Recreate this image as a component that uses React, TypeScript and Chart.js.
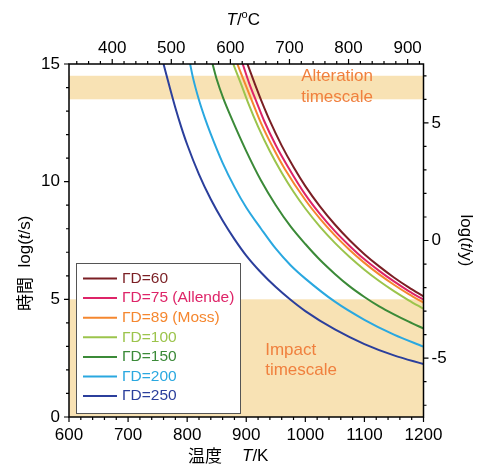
import { useEffect, useRef } from 'react';
import { Chart, registerables } from 'chart.js';

Chart.register(...registerables);

// ---- data ----
const seriesLabels = ['ΓD=60', 'ΓD=75 (Allende)', 'ΓD=89 (Moss)', 'ΓD=100', 'ΓD=150', 'ΓD=200', 'ΓD=250'];
const seriesColors = ['#7b1f24', '#de2468', '#f5872f', '#9cc44c', '#3b8a38', '#2aa8e0', '#2b3f9c'];

const gd60T = [902, 915, 926, 940, 960, 980, 1000, 1025, 1050, 1075, 1100, 1125, 1150, 1175, 1200];
const gd60V = [15, 14.12, 13.41, 12.58, 11.53, 10.62, 9.81, 8.94, 8.18, 7.51, 6.92, 6.4, 5.93, 5.51, 5.13];

const gd75T = [894, 905, 918, 930, 950, 970, 1000, 1025, 1050, 1075, 1100, 1125, 1150, 1175, 1200];
const gd75V = [15, 14.18, 13.35, 12.6, 11.55, 10.66, 9.45, 8.62, 7.9, 7.27, 6.7, 6.21, 5.76, 5.35, 4.99];

const gd89T = [885, 895, 911, 925, 945, 965, 1000, 1025, 1050, 1075, 1100, 1125, 1150, 1175, 1200];
const gd89V = [15, 14.36, 13.35, 12.49, 11.46, 10.55, 9.22, 8.42, 7.72, 7.1, 6.55, 6.06, 5.62, 5.22, 4.86];

const gd100T = [878, 890, 903, 920, 940, 960, 980, 1000, 1025, 1050, 1075, 1100, 1125, 1150, 1175, 1200];
const gd100V = [15, 14.23, 13.36, 12.34, 11.29, 10.38, 9.57, 8.86, 8.08, 7.4, 6.8, 6.26, 5.78, 5.35, 4.96, 4.6];

const gd150T = [843, 850, 861, 875, 900, 925, 950, 975, 1000, 1025, 1050, 1075, 1100, 1125, 1150, 1175, 1200];
const gd150V = [15, 14.35, 13.55, 12.7, 11.3, 10.05, 9.0, 8.1, 7.35, 6.67, 6.08, 5.55, 5.1, 4.7, 4.36, 4.05, 3.76];

const gd200T = [805, 810, 820, 830, 840, 860, 880, 900, 925, 950, 975, 1000, 1050, 1100, 1150, 1200];
const gd200V = [15, 14.4, 13.47, 12.7, 12.02, 10.8, 9.78, 8.9, 8.0, 7.15, 6.45, 5.88, 4.9, 4.13, 3.5, 2.99];

const gd250T = [760, 770, 780, 790, 800, 820, 840, 860, 880, 900, 925, 950, 975, 1000, 1050, 1100, 1150, 1200];
const gd250V = [15, 14.05, 13.14, 12.32, 11.58, 10.31, 9.25, 8.35, 7.56, 6.86, 6.14, 5.52, 4.98, 4.5, 3.72, 3.1, 2.62, 2.25];

const seriesT = [gd60T, gd75T, gd89T, gd100T, gd150T, gd200T, gd250T];
const seriesV = [gd60V, gd75V, gd89V, gd100V, gd150V, gd200V, gd250V];

const kelvinMajor = [600, 700, 800, 900, 1000, 1100, 1200];
const celsiusMajor = [400, 500, 600, 700, 800, 900];
const logSMajor = [0, 5, 10, 15];
const logYMajor = [-5, 0, 5];

const alterationBand = [13.5, 14.5];
const impactBand = [0, 5];
const alterationText = ['Alteration', 'timescale'];
const impactText = ['Impact', 'timescale'];

const KELVIN_ZERO = 273.15;
const LOG_SEC_PER_YEAR = 7.499;

function range(a: number, b: number, s: number) {
  const out: number[] = [];
  for (let v = a; v <= b + 1e-9; v += s) out.push(Math.round(v * 1000) / 1000);
  return out;
}
const kelvinMinor = range(600, 1200, 20);
const celsiusMinor = range(340, 920, 20);
const logSMinor = range(0, 15, 1);
const logYMinor = range(-7, 7, 1);

const FONT = '"Liberation Sans", Arial, "Noto Sans CJK JP", sans-serif';
const CJK = '"Noto Sans CJK JP", "Liberation Sans", sans-serif';

type Seg = { t: string; it?: boolean; sup?: boolean; cjk?: boolean };

function segFont(s: Seg, size: number) {
  const sz = s.sup ? Math.round(size * 0.62) : size;
  return `${s.it ? 'italic ' : ''}${sz}px ${s.cjk ? CJK : FONT}`;
}

function drawRich(ctx: CanvasRenderingContext2D, segs: Seg[], x: number, y: number, size: number, align: 'left' | 'center') {
  let total = 0;
  for (const s of segs) {
    ctx.font = segFont(s, size);
    total += ctx.measureText(s.t).width;
  }
  let cx = align === 'center' ? x - total / 2 : x;
  ctx.textAlign = 'left';
  ctx.textBaseline = 'middle';
  for (const s of segs) {
    ctx.font = segFont(s, size);
    ctx.fillText(s.t, cx, s.sup ? y - size * 0.3 : y);
    cx += ctx.measureText(s.t).width;
  }
}

const decorPlugin = {
  id: 'decor',
  beforeDatasetsDraw(chart: any) {
    const { ctx, chartArea: a, scales } = chart;
    const y = scales.y;
    ctx.save();
    ctx.fillStyle = '#f8e2b4';
    for (const band of [alterationBand, impactBand]) {
      const top = y.getPixelForValue(band[1]);
      const bot = y.getPixelForValue(band[0]);
      ctx.fillRect(a.left, top, a.right - a.left, bot - top);
    }
    ctx.restore();
  },
  afterDatasetsDraw(chart: any) {
    const { ctx, chartArea: a, scales } = chart;
    const { x, xTop, y, yRight } = scales;
    ctx.save();

    // band labels
    ctx.fillStyle = '#f0803e';
    ctx.font = `17px ${FONT}`;
    ctx.textAlign = 'left';
    ctx.textBaseline = 'middle';
    ctx.fillText(alterationText[0], x.getPixelForValue(993), y.getPixelForValue(14.47));
    ctx.fillText(alterationText[1], x.getPixelForValue(993), y.getPixelForValue(13.57));
    ctx.fillText(impactText[0], x.getPixelForValue(932), y.getPixelForValue(2.85));
    ctx.fillText(impactText[1], x.getPixelForValue(932), y.getPixelForValue(2.0));

    // frame
    ctx.strokeStyle = '#000';
    ctx.lineWidth = 1.5;
    ctx.strokeRect(a.left, a.top, a.right - a.left, a.bottom - a.top);

    // tick marks
    ctx.lineWidth = 1.2;
    ctx.beginPath();
    for (const v of kelvinMinor) {
      const p = x.getPixelForValue(v);
      const len = kelvinMajor.includes(v) ? 5 : 3;
      ctx.moveTo(p, a.bottom);
      ctx.lineTo(p, a.bottom + len);
    }
    for (const v of celsiusMinor) {
      const p = xTop.getPixelForValue(v);
      const len = celsiusMajor.includes(v) ? 5 : 3;
      ctx.moveTo(p, a.top);
      ctx.lineTo(p, a.top - len);
    }
    for (const v of logSMinor) {
      const p = y.getPixelForValue(v);
      const len = logSMajor.includes(v) ? 5 : 3;
      ctx.moveTo(a.left, p);
      ctx.lineTo(a.left - len, p);
    }
    for (const v of logYMinor) {
      const p = yRight.getPixelForValue(v);
      const len = logYMajor.includes(v) ? 5 : 3;
      ctx.moveTo(a.right, p);
      ctx.lineTo(a.right + len, p);
    }
    ctx.stroke();

    // legend
    const lx = a.left + 7;
    const ly = a.bottom - 154;
    const lw = 164;
    const lh = 150;
    ctx.fillStyle = '#fff';
    ctx.fillRect(lx, ly, lw, lh);
    ctx.strokeStyle = '#555';
    ctx.lineWidth = 1;
    ctx.strokeRect(lx + 0.5, ly + 0.5, lw, lh);
    chart.data.datasets.forEach((ds: any, i: number) => {
      const cy = ly + 15.5 + i * 19.6;
      ctx.strokeStyle = ds.borderColor;
      ctx.lineWidth = 2;
      ctx.beginPath();
      ctx.moveTo(lx + 7, cy);
      ctx.lineTo(lx + 41, cy);
      ctx.stroke();
      ctx.fillStyle = ds.borderColor;
      ctx.font = `15.5px ${FONT}`;
      ctx.textAlign = 'left';
      ctx.textBaseline = 'middle';
      ctx.fillText(ds.label, lx + 46, cy);
    });

    // axis titles
    ctx.fillStyle = '#000';
    drawRich(ctx, [{ t: 'T', it: true }, { t: '/' }, { t: 'o', sup: true }, { t: 'C' }], (a.left + a.right) / 2 - 3, 20, 17, 'center');

    drawRich(ctx, [{ t: '温度', cjk: true }], a.left + 119, 456, 17, 'left');
    drawRich(ctx, [{ t: 'T', it: true }, { t: '/K' }], a.left + 173, 456, 17, 'left');

    ctx.save();
    ctx.translate(25, 311);
    ctx.rotate(-Math.PI / 2);
    drawRich(ctx, [{ t: '時間', cjk: true }, { t: '  log(' }, { t: 't', it: true }, { t: '/s)' }], 0, 0, 17, 'left');
    ctx.restore();

    ctx.save();
    ctx.translate(466, (a.top + a.bottom) / 2);
    ctx.rotate(Math.PI / 2);
    drawRich(ctx, [{ t: 'log(' }, { t: 't', it: true }, { t: '/y)' }], 0, 0, 17, 'center');
    ctx.restore();

    ctx.restore();
  },
};

const tickFont = { family: FONT, size: 17 };

export default function App() {
  const ref = useRef<HTMLCanvasElement | null>(null);

  useEffect(() => {
    document.body.style.margin = '0';
    const canvas = ref.current;
    if (!canvas) return;
    const datasets = seriesLabels.map((label, i) => ({
      label,
      data: seriesT[i].map((t, j) => ({ x: t, y: seriesV[i][j] })),
      borderColor: seriesColors[i],
      backgroundColor: seriesColors[i],
      borderWidth: 2,
      pointRadius: 0,
      fill: false,
      cubicInterpolationMode: 'monotone' as const,
      xAxisID: 'x',
      yAxisID: 'y',
    }));

    const chart = new Chart(canvas, {
      type: 'line',
      data: { datasets },
      options: {
        animation: false,
        responsive: false,
        layout: { padding: 0 },
        plugins: { legend: { display: false }, tooltip: { enabled: false } },
        scales: {
          x: {
            type: 'linear',
            position: 'bottom',
            min: 600,
            max: 1200,
            grid: { display: false, drawTicks: false },
            border: { display: false },
            ticks: { font: tickFont, color: '#000', padding: 8, autoSkip: false, maxRotation: 0, callback: (v: any) => String(v) },
            afterBuildTicks: (s: any) => { s.ticks = kelvinMajor.map((v) => ({ value: v })); },
            afterFit: (s: any) => { s.height = 48; },
          },
          xTop: {
            type: 'linear',
            position: 'top',
            min: 600 - KELVIN_ZERO,
            max: 1200 - KELVIN_ZERO,
            grid: { display: false, drawTicks: false },
            border: { display: false },
            ticks: { font: tickFont, color: '#000', padding: 5, autoSkip: false, maxRotation: 0, callback: (v: any) => String(v) },
            afterBuildTicks: (s: any) => { s.ticks = celsiusMajor.map((v) => ({ value: v })); },
            afterFit: (s: any) => { s.height = 64; },
          },
          y: {
            type: 'linear',
            position: 'left',
            min: 0,
            max: 15,
            grid: { display: false, drawTicks: false },
            border: { display: false },
            ticks: { font: tickFont, color: '#000', padding: 9, autoSkip: false, callback: (v: any) => String(v) },
            afterBuildTicks: (s: any) => { s.ticks = logSMajor.map((v) => ({ value: v })); },
            afterFit: (s: any) => { s.width = 69; },
          },
          yRight: {
            type: 'linear',
            position: 'right',
            min: 0 - LOG_SEC_PER_YEAR,
            max: 15 - LOG_SEC_PER_YEAR,
            grid: { display: false, drawTicks: false },
            border: { display: false },
            ticks: { font: tickFont, color: '#000', padding: 8, autoSkip: false, callback: (v: any) => String(v) },
            afterBuildTicks: (s: any) => { s.ticks = logYMajor.map((v) => ({ value: v })); },
            afterFit: (s: any) => { s.width = 60.5; },
          },
        },
      },
      plugins: [decorPlugin],
    });
    return () => chart.destroy();
  }, []);

  return (
    <div style={{ width: 484, height: 465 }}>
      <canvas ref={ref} width={484} height={465} />
    </div>
  );
}
